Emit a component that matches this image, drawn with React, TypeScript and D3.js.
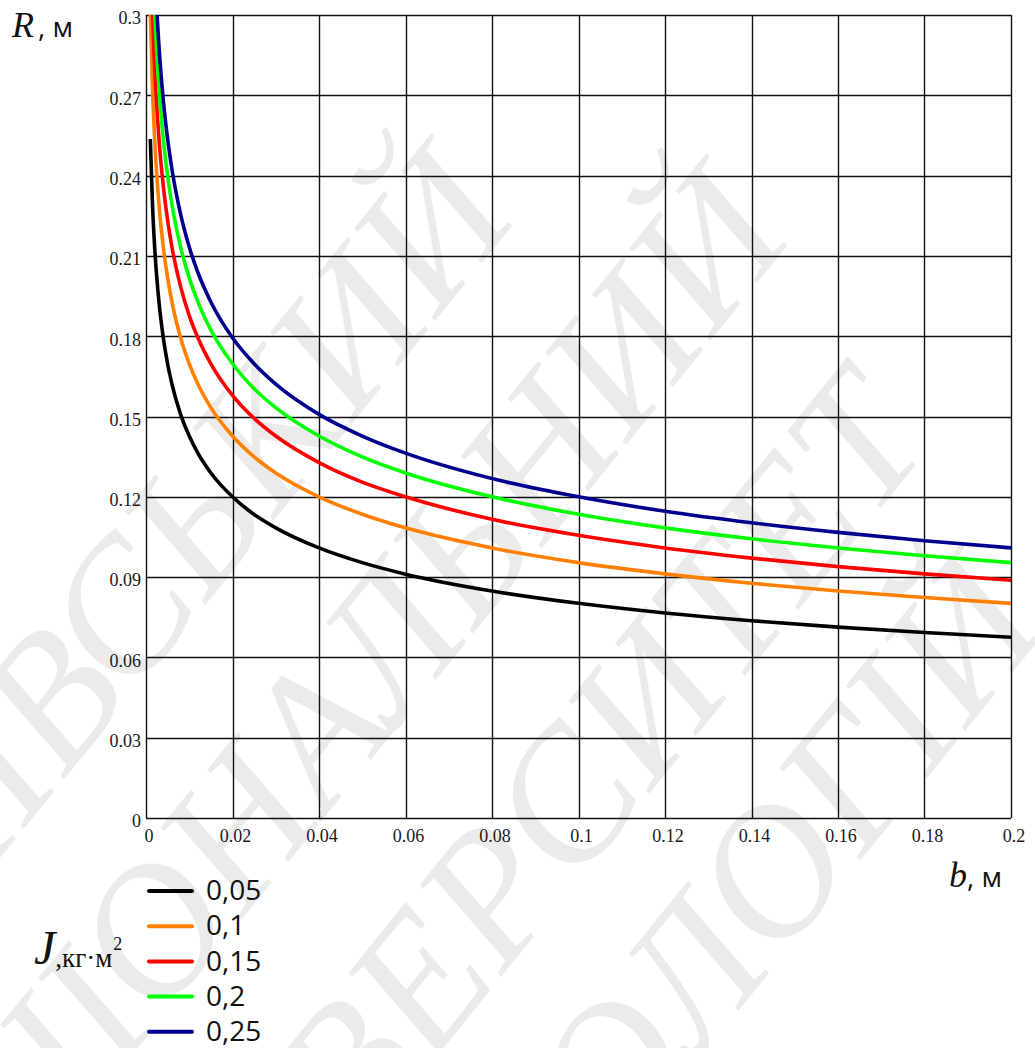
import * as d3 from 'd3'

// b, м
const B = [0.001, 0.0015, 0.002, 0.003, 0.004, 0.005, 0.006, 0.008, 0.01, 0.012, 0.015, 0.02, 0.025, 0.03, 0.04, 0.05, 0.06, 0.08, 0.1, 0.12, 0.14, 0.16, 0.18, 0.2]

// R, м for each J
const R_005 = [0.2537, 0.2292, 0.2133, 0.1928, 0.1794, 0.1696, 0.1621, 0.1508, 0.1427, 0.1363, 0.1289, 0.12, 0.1134, 0.1084, 0.1009, 0.0954, 0.0911, 0.0848, 0.0802, 0.0766, 0.0737, 0.0713, 0.0693, 0.0675]
const R_01 = [0.3017, 0.2726, 0.2537, 0.2292, 0.2133, 0.2018, 0.1928, 0.1794, 0.1697, 0.1621, 0.1533, 0.1427, 0.1349, 0.1289, 0.12, 0.1135, 0.1084, 0.1009, 0.0954, 0.0912, 0.0877, 0.0848, 0.0824, 0.0802]
const R_015 = [0.3339, 0.3017, 0.2807, 0.2537, 0.2361, 0.2233, 0.2133, 0.1985, 0.1877, 0.1794, 0.1697, 0.1579, 0.1493, 0.1427, 0.1328, 0.1255, 0.12, 0.1116, 0.1056, 0.1009, 0.0971, 0.0939, 0.0912, 0.0888]
const R_02 = [0.3588, 0.3242, 0.3017, 0.2726, 0.2537, 0.2399, 0.2292, 0.2133, 0.2018, 0.1928, 0.1823, 0.1697, 0.1604, 0.1533, 0.1427, 0.1349, 0.1289, 0.12, 0.1135, 0.1084, 0.1043, 0.1009, 0.098, 0.0954]
const R_025 = [0.3794, 0.3428, 0.319, 0.2883, 0.2682, 0.2537, 0.2424, 0.2256, 0.2133, 0.2038, 0.1928, 0.1794, 0.1697, 0.1621, 0.1508, 0.1427, 0.1363, 0.1268, 0.12, 0.1146, 0.1103, 0.1067, 0.1036, 0.1009]

const SERIES = [
  { label: '0,05', color: '#000000', values: R_005 },
  { label: '0,1', color: '#ff8000', values: R_01 },
  { label: '0,15', color: '#ff0000', values: R_015 },
  { label: '0,2', color: '#00ff00', values: R_02 },
  { label: '0,25', color: '#00008f', values: R_025 },
]

const X_TICKS = [0, 0.02, 0.04, 0.06, 0.08, 0.1, 0.12, 0.14, 0.16, 0.18, 0.2]
const X_LABELS = ['0', '0.02', '0.04', '0.06', '0.08', '0.1', '0.12', '0.14', '0.16', '0.18', '0.2']
const Y_TICKS = [0, 0.03, 0.06, 0.09, 0.12, 0.15, 0.18, 0.21, 0.24, 0.27, 0.3]
const Y_LABELS = ['0', '0.03', '0.06', '0.09', '0.12', '0.15', '0.18', '0.21', '0.24', '0.27', '0.3']

const WATERMARK = [
  { text: 'КИЇВСЬКИЙ', x: 470, y: 175 },
  { text: 'НАЦІОНАЛЬНИЙ', x: 745, y: 195 },
  { text: 'УНІВЕРСИТЕТ', x: 885, y: 400 },
  { text: 'ТЕХНОЛОГІЙ', x: 1000, y: 585 },
]

const W = 1035
const H = 1048
const serif = '"Liberation Serif", "DejaVu Serif", serif'
const sans = '"Open Sans", "Liberation Sans", sans-serif'

export default function App() {
  const x = d3.scaleLinear().domain([0, 0.2]).range([146, 1011])
  const y = d3.scaleLinear().domain([0, 0.3]).range([818, 15])
  const [x0, x1] = x.range()
  const [y0, y1] = y.range()
  const px = (v: number) => Math.round(v) + 0.5

  const line = d3.line<number>()
    .x((_, i) => x(B[i]))
    .y(d => y(d))
    .curve(d3.curveMonotoneX)

  return (
    <svg width={W} height={H} style={{ position: 'absolute', left: 0, top: 0, display: 'block', background: '#fff' }}>
      <defs>
        <clipPath id="plot">
          <rect x={x0} y={y1} width={x1 - x0} height={y0 - y1} />
        </clipPath>
      </defs>

      {/* watermark */}
      <g fill="#ebebeb" fontFamily={serif} fontStyle="italic" fontSize={185}>
        {WATERMARK.map(w => (
          <text key={w.text} x={w.x} y={w.y} dy="0.35em" textAnchor="end"
            transform={`rotate(-51 ${w.x} ${w.y})`}>{w.text}</text>
        ))}
      </g>

      {/* grid */}
      <g stroke="#111" strokeWidth={1.4}>
        {X_TICKS.map(t => <line key={'gx' + t} x1={px(x(t))} x2={px(x(t))} y1={y0} y2={y1} />)}
        {Y_TICKS.map(t => <line key={'gy' + t} x1={x0} x2={x1} y1={px(y(t))} y2={px(y(t))} />)}
      </g>

      {/* curves */}
      <g clipPath="url(#plot)" fill="none" strokeWidth={3.6}>
        {SERIES.map(s => <path key={s.label} d={line(s.values) || ''} stroke={s.color} />)}
      </g>

      {/* tick labels */}
      <g fontFamily={serif} fontSize={18} fill="#1a1a1a">
        {Y_TICKS.map((t, i) => (
          <text key={'ly' + t} x={141} y={y(t) + 3} dy="0.35em" textAnchor="end">{Y_LABELS[i]}</text>
        ))}
        {X_TICKS.map((t, i) => (
          <text key={'lx' + t} x={x(t) + 3} y={842} textAnchor="middle">{X_LABELS[i]}</text>
        ))}
      </g>

      {/* axis titles */}
      <text x={12} y={37} fill="#111">
        <tspan fontFamily={serif} fontStyle="italic" fontSize={36}>R</tspan>
        <tspan fontFamily={sans} fontSize={28} dx={4}>, м</tspan>
      </text>
      <text x={949} y={887} fill="#111">
        <tspan fontFamily={serif} fontStyle="italic" fontSize={36}>b</tspan>
        <tspan fontFamily={sans} fontSize={28}>, м</tspan>
      </text>

      {/* legend */}
      <g>
        {SERIES.map((s, i) => {
          const ly = 891 + i * 35.2
          return (
            <g key={'lg' + s.label}>
              <line x1={149} x2={192} y1={ly} y2={ly} stroke={s.color} strokeWidth={4} strokeLinecap="round" />
              <text x={206} y={ly} dy="0.33em" fontFamily={sans} fontSize={28} fill="#111">{s.label}</text>
            </g>
          )
        })}
        <text x={34} y={964} fill="#111" fontFamily={serif}>
          <tspan fontStyle="italic" fontSize={48}>J</tspan>
          <tspan fontSize={27} dy={3}>,кг·м</tspan>
          <tspan fontSize={18} dy={-17} dx={1}>2</tspan>
        </text>
      </g>
    </svg>
  )
}
